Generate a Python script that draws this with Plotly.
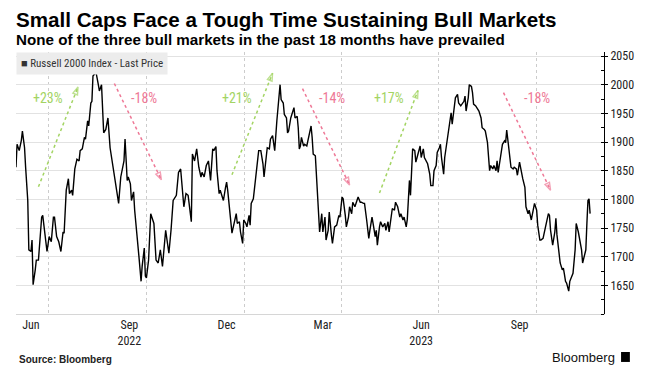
import pandas as pd
import plotly.graph_objects as go

# ---------------- data ----------------
start_date = "2022-06-01"
day_offset = [
    0, 1, 3, 5, 6, 8, 9, 11, 12, 14, 15, 16, 18, 19, 21, 22, 24, 25, 27, 29, 31, 33, 35, 36, 38, 40, 42, 44, 45, 47,
    49, 50, 52, 53, 55, 57, 59, 60, 62, 64, 65, 67, 68, 70, 71, 72, 74, 75, 77, 78, 80, 81, 82, 84, 86, 88, 90, 92, 94,
    96, 98, 101, 102, 104, 105, 107, 108, 110, 111, 113, 115, 117, 118, 120, 121, 122, 124, 126, 129, 131, 133, 135,
    137, 140, 141, 143, 145, 147, 150, 152, 154, 157, 159, 161, 164, 165, 167, 169, 171, 173, 174, 176, 178, 180, 182,
    184, 185, 187, 188, 190, 191, 193, 194, 196, 197, 198, 200, 202, 204, 206, 207, 209, 210, 212, 213, 215, 216, 218,
    219, 220, 222, 225, 227, 229, 231, 232, 234, 235, 237, 238, 240, 242, 244, 245, 247, 248, 250, 251, 253, 254, 255,
    257, 259, 260, 261, 263, 264, 265, 266, 267, 269, 270, 272,
    273, 274, 276, 277, 278, 280, 281, 283, 284, 286, 287, 289, 290, 292, 293, 295, 296, 298, 300, 302, 303, 305, 306,
    308, 309, 311, 312, 314, 315, 317, 319, 320, 322, 323, 325, 326, 328, 330, 331, 333, 334, 336, 337, 338, 340, 341,
    343, 345, 346, 348, 349, 351, 352, 354, 355, 357, 359, 360, 362, 363, 365, 366,
    368, 369, 370, 371, 373, 374, 376, 378, 379, 381, 382, 384, 385, 387, 388, 390, 391, 393, 394, 396, 397, 398, 400,
    401, 403, 404, 406, 407, 408, 410, 411, 413, 414, 416, 417, 419, 420, 421, 423, 424, 426, 427, 428, 430, 432, 433,
    435, 436, 438, 439, 441, 442, 443, 444, 446, 447, 449, 450, 451, 452, 454, 455, 457, 458,
    459, 461, 462, 463, 465, 466, 468, 469, 471, 473, 474, 476, 477, 479, 480, 482, 484, 485, 487, 488, 490, 491, 493,
    494, 496, 498, 499, 500, 502, 504, 505, 506, 508, 509, 511, 512, 513, 514, 515, 517, 518, 520, 521, 523, 524, 526,
    527, 529, 530, 532, 533, 534, 535, 536, 537,
]
russell_2000 = [
    1856, 1896, 1885, 1903, 1919, 1890, 1856, 1798, 1712, 1709, 1729, 1651, 1677, 1694, 1694, 1723, 1769, 1772, 1735,
    1709, 1735, 1726, 1769, 1769, 1735, 1726, 1709, 1743, 1741, 1816, 1836, 1810, 1816, 1807, 1853, 1870, 1867, 1885,
    1888, 1908, 1905, 1937, 1928, 1968, 1971, 2015, 2020, 2020, 2000, 1989, 2000, 1960, 1916, 1922, 1942, 1890, 1865,
    1840, 1815,
    1793, 1839, 1867, 1905, 1833, 1839, 1827, 1798, 1813, 1781, 1746, 1700, 1657, 1683, 1715, 1666, 1663, 1694, 1775,
    1758, 1694, 1689, 1712, 1683, 1746, 1729, 1706, 1746, 1798, 1807, 1847, 1853, 1787, 1810, 1807, 1761, 1879, 1867,
    1888, 1856, 1839, 1847, 1839, 1859, 1867, 1833,
    1888, 1885, 1892, 1850, 1810, 1816, 1804, 1798, 1821, 1830, 1816, 1775, 1741, 1758, 1775, 1758, 1761, 1743, 1723,
    1764, 1758, 1752, 1772, 1755, 1793, 1801, 1850, 1885, 1885, 1862, 1839, 1882, 1890, 1888, 1905, 1911, 1885, 1937,
    1963, 2000, 1974, 1968, 1948, 1942, 1916, 1919, 1942, 1957, 1960, 1942, 1945, 1925, 1888, 1893, 1908, 1893, 1896,
    1893,
    1902, 1908, 1928, 1908, 1879, 1876, 1839, 1775, 1743, 1775, 1743, 1769, 1729, 1746, 1778, 1738, 1723, 1752, 1755,
    1772, 1769, 1804, 1801, 1772, 1752, 1769, 1787, 1775, 1795, 1787, 1798, 1804, 1795, 1795, 1793, 1793, 1764, 1732,
    1746, 1769, 1758, 1735, 1746, 1720, 1752, 1761, 1752, 1758, 1746, 1761, 1743, 1769, 1784, 1781, 1795, 1787, 1769,
    1775, 1764, 1769, 1752, 1765,
    1833, 1807, 1856, 1888, 1885, 1865, 1879, 1893, 1873, 1888, 1873, 1867, 1862, 1844, 1824, 1824, 1850, 1859, 1882,
    1890, 1896, 1873, 1844, 1873, 1899, 1919, 1937, 1951, 1931, 1957, 1977, 1983, 1968, 1963, 1966, 1971, 1980, 1954,
    1977, 2000, 1997, 1986, 1966, 1963, 1957, 1954, 1942, 1925, 1922, 1919, 1899, 1873, 1850, 1859, 1853, 1859, 1850,
    1867, 1847, 1859, 1882, 1896, 1902, 1899,
    1921, 1885, 1876, 1856, 1853, 1856, 1853, 1842, 1865, 1844, 1836, 1821, 1787, 1775, 1781, 1764, 1787, 1793, 1781,
    1755, 1729, 1729, 1732, 1743, 1758, 1775, 1772, 1746, 1720, 1743, 1767, 1738, 1706, 1689, 1677, 1680, 1669, 1657,
    1654, 1640, 1657, 1666, 1671, 1712, 1758, 1743, 1732, 1712, 1689, 1706, 1712, 1758, 1798, 1801, 1775,
]

tick_dates = ["2022-06-15", "2022-09-15", "2022-12-15", "2023-03-15", "2023-06-15", "2023-09-15"]
tick_labels = ["Jun", "Sep<br>2022", "Dec", "Mar", "Jun<br>2023", "Sep"]
quarter_dates = ["2022-07-01", "2022-10-01", "2023-01-01", "2023-04-01", "2023-07-01", "2023-10-01"]
y_ticks = [1650, 1700, 1750, 1800, 1850, 1900, 1950, 2000, 2050]

# move annotations: tail date, tail level, head date, head level, label, label date
move_tail_dates = ["2022-06-22", "2022-09-01", "2022-12-20", "2023-02-24", "2023-05-07", "2023-08-31"]
move_tail_levels = [1822, 2002, 1843, 1993, 1811, 1986]
move_head_dates = ["2022-07-29", "2022-10-15", "2023-01-27", "2023-04-09", "2023-06-12", "2023-10-14"]
move_head_levels = [1996, 1834, 2020, 1825, 1990, 1816]
move_labels = ["+23%", "-18%", "+21%", "-14%", "+17%", "-18%"]
move_label_dates = ["2022-07-01", "2022-09-29", "2022-12-25", "2023-03-24", "2023-05-16", "2023-10-01"]
move_label_level = 1977

# ---------------- figure ----------------
GREEN = "#a3d463"
PINK = "#ee7896"
NARROW = "Liberation Sans Narrow, Arial Narrow, Roboto Condensed, Liberation Sans, sans-serif"
BOLD = "Liberation Sans, Arial, sans-serif"

dates = pd.Timestamp(start_date) + pd.to_timedelta(day_offset, unit="D")

fig = go.Figure()
fig.add_trace(go.Scatter(x=dates, y=russell_2000, mode="lines",
                         line=dict(color="black", width=1.4), hoverinfo="skip"))

for i in range(len(move_labels)):
    col = GREEN if move_labels[i].startswith("+") else PINK
    fig.add_trace(go.Scatter(
        x=[move_tail_dates[i], move_head_dates[i]],
        y=[move_tail_levels[i], move_head_levels[i]],
        mode="lines+markers",
        line=dict(color=col, width=1.5, dash="dot"),
        marker=dict(symbol="arrow-open", size=[0, 8], angleref="previous",
                    color=col, line=dict(color=col, width=1.4)),
        hoverinfo="skip"))
    fig.add_annotation(x=move_label_dates[i], y=move_label_level, text=move_labels[i],
                       showarrow=False, font=dict(family=NARROW, size=14, color=col))

fig.update_layout(
    width=656, height=379,
    margin=dict(l=16, r=52, t=52, b=65),
    plot_bgcolor="white", paper_bgcolor="white",
    showlegend=False,
    xaxis=dict(
        type="date", range=["2022-06-01", "2023-12-03"],
        tickmode="array", tickvals=tick_dates, ticktext=tick_labels,
        showgrid=False, ticks="", showline=True, linecolor="#d6d6d6", linewidth=1,
        tickfont=dict(family=NARROW, size=12, color="#222222"),
        minor=dict(tickmode="array", tickvals=quarter_dates, showgrid=True,
                   gridcolor="#cccccc", griddash="dot", gridwidth=1, ticks=""),
        zeroline=False,
    ),
    yaxis=dict(
        side="right", range=[1600, 2057],
        tickmode="array", tickvals=y_ticks,
        showgrid=True, gridcolor="#e2e2e2", gridwidth=1,
        showline=True, linecolor="black", linewidth=1,
        ticks="outside", ticklen=3, tickcolor="black",
        minor=dict(dtick=25, tick0=1600, ticks="inside", ticklen=3, tickcolor="black", showgrid=False),
        tickfont=dict(family=NARROW, size=12, color="#222222"),
        zeroline=False,
    ),
)

# title and subtitle
fig.add_annotation(xref="paper", yref="paper", x=-0.004, y=1.125, xanchor="left", yanchor="middle",
                   text="<b>Small Caps Face a Tough Time Sustaining Bull Markets</b>", showarrow=False,
                   font=dict(family=BOLD, size=20.6, color="black"))
fig.add_annotation(xref="paper", yref="paper", x=-0.004, y=1.048, xanchor="left", yanchor="middle",
                   text="<b>None of the three bull markets in the past 18 months have prevailed</b>", showarrow=False,
                   font=dict(family=BOLD, size=15.2, color="black"))
# legend box
fig.add_annotation(xref="paper", yref="paper", x=0, y=1, xanchor="left", yanchor="top",
                   text="■ Russell 2000 Index - Last Price", showarrow=False,
                   bgcolor="#ececec", borderpad=4,
                   font=dict(family=NARROW, size=11, color="#333333"))
# footer
fig.add_annotation(xref="paper", yref="paper", x=0.002, y=-0.172, xanchor="left", yanchor="middle",
                   text="<b>Source: Bloomberg</b>", showarrow=False,
                   font=dict(family=BOLD, size=10, color="#222222"))
fig.add_annotation(xref="paper", yref="paper", x=1.022, y=-0.165, xanchor="right", yanchor="middle",
                   text="Bloomberg", showarrow=False,
                   font=dict(family="Liberation Sans, Arial, sans-serif", size=13, color="#111111"))
fig.add_shape(type="rect", xref="paper", yref="paper", x0=1.029, x1=1.044, y0=-0.183, y1=-0.145,
              fillcolor="black", line=dict(color="black", width=0))

fig.write_html("out.html", config={"displayModeBar": False},
               post_script="document.body.style.margin='0';")
